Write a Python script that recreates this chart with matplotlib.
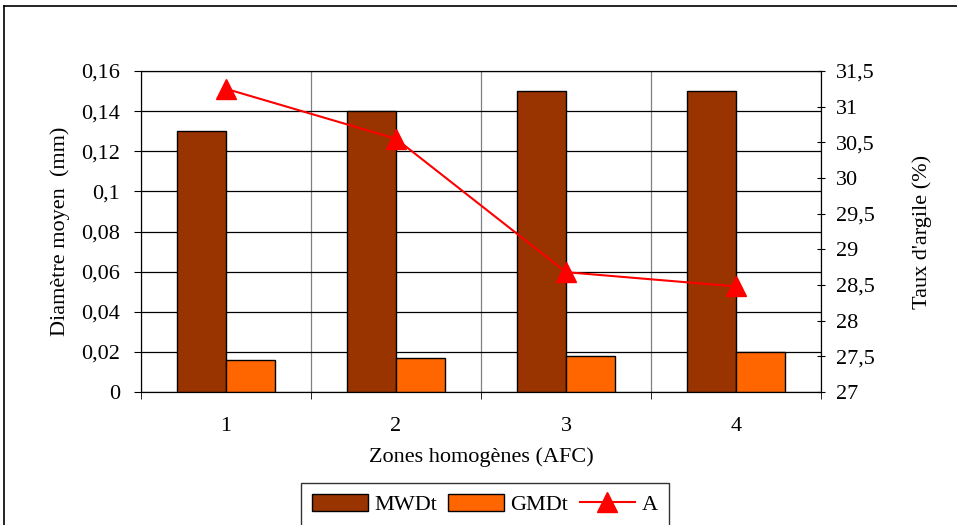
import numpy as np
import matplotlib.pyplot as plt
from matplotlib.lines import Line2D
from matplotlib.ticker import FuncFormatter

plt.rcParams['font.family'] = ['Liberation Serif', 'DejaVu Serif']

# Data
zones = ['1', '2', '3', '4']
mwdt = [0.13, 0.14, 0.15, 0.15]
gmdt = [0.016, 0.017, 0.018, 0.020]
argile = [31.25, 30.55, 28.68, 28.48]

fs = 16

fig = plt.figure(figsize=(9.57, 5.25), dpi=100)
ax = fig.add_axes([141 / 957, 1 - 392 / 525, 680 / 957, 321 / 525])

x = np.arange(len(zones))
w = 1 / 3.5
ax.bar(x - w / 2, mwdt, w, color='#993300', edgecolor='black', linewidth=1, label='MWDt', zorder=3)
ax.bar(x + w / 2, gmdt, w, color='#FF6600', edgecolor='black', linewidth=1, label='GMDt', zorder=3)

ax.set_xlim(-0.5, 3.5)
ax.set_ylim(0, 0.16)
ax.set_yticks(np.arange(0, 0.161, 0.02))
comma = lambda v, p: ('%g' % round(v, 4)).replace('.', ',')
ax.yaxis.set_major_formatter(FuncFormatter(comma))
ax.set_xticks(x)
ax.set_xticklabels(zones)
ax.set_xticks(np.arange(-0.5, 3.6, 1), minor=True)
ax.tick_params(axis='x', which='major', length=0, labelsize=fs, pad=18)
ax.tick_params(axis='x', which='minor', length=5, direction='out')
ax.tick_params(axis='y', labelsize=fs, length=5, direction='out', pad=10)
ax.grid(axis='y', color='black', linewidth=0.9, zorder=0)
ax.grid(axis='x', which='minor', color='#808080', linewidth=0.9, zorder=0)
ax.set_axisbelow(True)
for s in ax.spines.values():
    s.set_color('black')

ax.set_ylabel('Diamètre moyen  (mm)', fontsize=fs, labelpad=8)
ax.set_xlabel('Zones homogènes (AFC)', fontsize=fs, labelpad=8)

ax2 = ax.twinx()
ax2.plot(x, argile, color='#FF0000', linewidth=1.5, marker='^', markersize=14,
         label='A', zorder=4)
ax2.set_ylim(27, 31.5)
ax2.set_yticks(np.arange(27, 31.51, 0.5))
ax2.yaxis.set_major_formatter(FuncFormatter(comma))
ax2.tick_params(axis='y', labelsize=fs, length=6, direction='inout', pad=8)
ax2.set_ylabel("Taux d'argile (%)", fontsize=fs, labelpad=27)

# legend
h1, l1 = ax.get_legend_handles_labels()
h2, l2 = ax2.get_legend_handles_labels()
leg = fig.legend(h1 + h2, l1 + l2, loc='upper center', bbox_to_anchor=(485 / 957, 1 - 483 / 525),
                 ncol=3, fontsize=fs, frameon=True, fancybox=False, edgecolor='black',
                 handlelength=2.5, handleheight=0.8, columnspacing=0.5, handletextpad=0.3,
                 borderpad=0.5, borderaxespad=0)
leg.get_frame().set_linewidth(1)

# outer chart frame
fig.add_artist(Line2D([4 / 957, 1], [1 - 6 / 525, 1 - 6 / 525], color='black', linewidth=1.2))
fig.add_artist(Line2D([4 / 957, 4 / 957], [0, 1 - 6 / 525], color='black', linewidth=1.2))

fig.savefig('out.png', dpi=100)
